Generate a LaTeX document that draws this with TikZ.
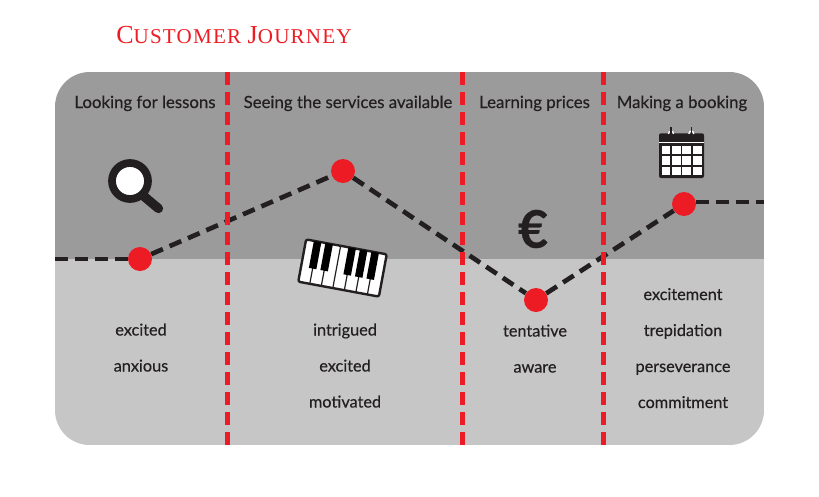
\documentclass[tikz,border=0pt]{standalone}
\usepackage{fontspec}
\setmainfont{Lato}[FakeBold=0.35]
\newfontfamily\titlefont[LetterSpace=5.8]{Liberation Serif}
\usetikzlibrary{positioning}
\definecolor{journeyred}{HTML}{ED1C24}
\definecolor{inkdark}{HTML}{231F20}
\definecolor{paneltop}{HTML}{9B9B9B}
\definecolor{panellow}{HTML}{C6C6C6}

\begin{document}
\begin{tikzpicture}[x=0.75pt,y=-0.75pt,
  every node/.style={font=\fontsize{12.6}{14}\selectfont,text=inkdark},
  stage/.style={anchor=center,inner sep=0pt,text height=9pt,text depth=3pt},
  feel/.style={anchor=center,inner sep=0pt,text height=9pt,text depth=3pt,font=\fontsize{12.2}{14}\selectfont},
  pt/.style={circle,fill=journeyred,minimum size=18pt,inner sep=0pt},
  divider/.style={journeyred,line width=3.75pt,dash pattern=on 9.8pt off 5.2pt},
  trail/.style={inkdark,line width=3.5pt,dash pattern=on 9.5pt off 5.5pt}]

\useasboundingbox (0,0) rectangle (819,497);

\begin{scope}
  \clip[rounded corners=26pt] (55,72) rectangle (764,445);
  \fill[paneltop] (55,72) rectangle (764,259);
  \fill[panellow] (55,259) rectangle (764,445);
\end{scope}

\node[anchor=base west,inner sep=0pt,text=journeyred] (title) at (116,43)
  {\titlefont\fontsize{19.5}{20}\selectfont C\fontsize{15.8}{20}\selectfont USTOMER\ \fontsize{19.5}{20}\selectfont J\fontsize{15.8}{20}\selectfont OURNEY};

\node[stage] (s1) at (145,104) {Looking for lessons};
\node[stage] (s2) at (348,104) {Seeing the services available};
\node[stage] (s3) at (534.5,104) {Learning prices};
\node[stage] (s4) at (682,104) {Making a booking};

\node[feel] (f1a) at (141,331.5) {excited};
\node[feel,below=27pt of f1a.center,anchor=center] (f1b) {anxious};

\node[feel] (f2a) at (345,331.5) {intrigued};
\node[feel,below=27pt of f2a.center,anchor=center] (f2b) {excited};
\node[feel,below=27pt of f2b.center,anchor=center] (f2c) {motivated};

\node[feel] (f3a) at (535,332.5) {tentative};
\node[feel,below=27pt of f3a.center,anchor=center] (f3b) {aware};

\node[feel] (f4a) at (683,296) {excitement};
\node[feel,below=27pt of f4a.center,anchor=center] (f4b) {trepidation};
\node[feel,below=27pt of f4b.center,anchor=center] (f4c) {perseverance};
\node[feel,below=27pt of f4c.center,anchor=center] (f4d) {commitment};

\coordinate (in) at (55,259);
\coordinate (out) at (764,202);
\node[pt] (p1) at (140,259) {};
\node[pt] (p2) at (343,171) {};
\node[pt] (p3) at (536,300) {};
\node[pt] (p4) at (684,204) {};
\draw[trail] (in) -- (p1);
\draw[trail] (p1) -- (p2);
\draw[trail] (p2) -- (p3);
\draw[trail] (p3) -- (p4);
\draw[trail] (p4.east |- out) -- (out);

\foreach \x in {227.5,462,603}
  \draw[divider] (\x,72) -- (\x,445);

\draw[inkdark,line width=7pt,line cap=round] (140,193) -- (158.5,208.5);
\draw[inkdark,line width=5.8pt,fill=white] (130,181) circle (18);

\begin{scope}[shift={(342.5,268)},rotate=-10.5]
  \draw[inkdark,line width=1.8pt,fill=white,rounded corners=1.5pt] (-41,-21.5) rectangle (41,21.5);
  \foreach \k in {1,...,6}
    \draw[inkdark,line width=0.9pt] ({-41+\k*82/7},-21.5) -- ({-41+\k*82/7},21.5);
  \foreach \k in {1,2,4,5,6}
    \fill[black] ({-41+\k*82/7-3.8},-21.5) rectangle ({-41+\k*82/7+3.8},6);
\end{scope}

\node[inner sep=0pt,font=\fontsize{39}{39}\bfseries\selectfont] (euro) at (533,229) {€};

\fill[inkdark,rounded corners=1.5pt] (659,133.3) rectangle (704,178);
\fill[white] (659,141.6) rectangle (704,143);
\foreach \c in {0,...,3}
  \foreach \r in {0,1,2}
    \fill[white] ({661.6+\c*10.4},{146+\r*10.3}) rectangle ++(8.8,8.2);
\foreach \x in {671,691.3}{
  \draw[white,line width=0.9pt] (\x-2.5,134) arc[start angle=180,end angle=0,x radius=2.5,y radius=-3];
  \draw[inkdark,line width=1pt] (\x,127) -- (\x,138);
}
\end{tikzpicture}
\end{document}
